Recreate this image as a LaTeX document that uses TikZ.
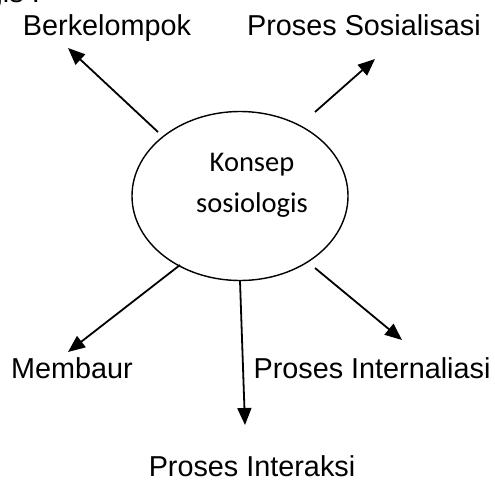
\documentclass[tikz,border=0pt]{standalone}
\usepackage{fontspec}
\setmainfont{Liberation Sans}
\newfontfamily\carlito{Carlito}
\usetikzlibrary{arrows.meta,shapes.geometric}
\begin{document}
\begin{tikzpicture}[x=1pt,y=-1pt,
  lbl/.style={anchor=base,inner sep=0pt,font=\fontsize{28.8}{32}\selectfont},
  inner/.style={anchor=base,inner sep=0pt,font=\carlito\fontsize{28.5}{41}\selectfont},
  arr/.style={line width=1.8pt,-{Triangle[length=17pt,width=14pt]}},
  center/.style={draw,ellipse,line width=1.4pt,minimum width=216pt,minimum height=169pt,inner sep=0pt}]
\useasboundingbox (0,0) rectangle (495,480);
\clip (0,0) rectangle (495,480);
\node[lbl,anchor=base east] (frag) at (40,2) {gis :};
\node[center] (c) at (240,196) {};
\node[inner] (k1) at (252,171) {Konsep};
\node[inner] (k2) at (252,212) {sosiologis};
\node[lbl] (b) at (107,35) {Berkelompok};
\node[lbl] (s) at (364,35) {Proses Sosialisasi};
\node[lbl] (m) at (72,378) {Membaur};
\node[lbl] (pi) at (372,378) {Proses Internaliasi};
\node[lbl] (px) at (252,476) {Proses Interaksi};
\coordinate (t1) at (158,132); \coordinate (h1) at (68,48);
\coordinate (t2) at (315,112); \coordinate (h2) at (375,59);
\coordinate (t3) at (180,265); \coordinate (h3) at (68,352);
\coordinate (t4) at (240,281); \coordinate (h4) at (245,425);
\coordinate (t5) at (315,268); \coordinate (h5) at (402,340);
\draw[arr] (t1) -- (h1);
\draw[arr] (t2) -- (h2);
\draw[arr] (t3) -- (h3);
\draw[arr] (t4) -- (h4);
\draw[arr] (t5) -- (h5);
\end{tikzpicture}
\end{document}
